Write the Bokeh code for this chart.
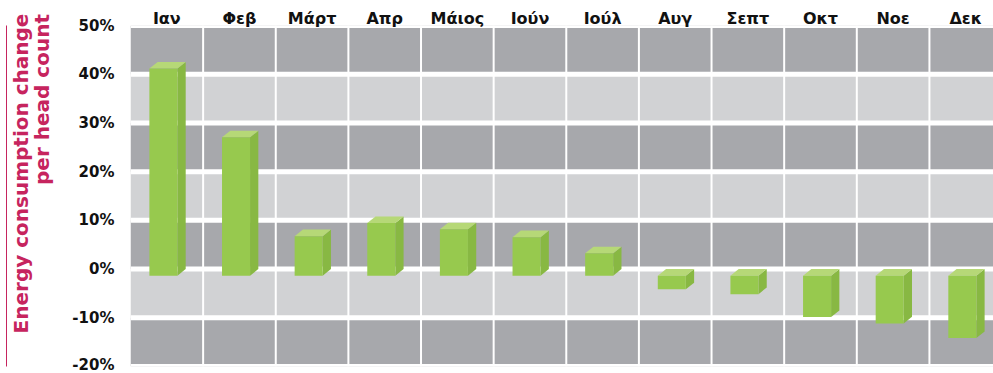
from bokeh.plotting import figure
from bokeh.models import Range1d, FixedTicker, LinearAxis
from bokeh.embed import file_html
from bokeh.resources import INLINE

# ---------------- data ----------------
months = ["Ιαν", "Φεβ", "Μάρτ", "Απρ", "Μάιος", "Ιούν", "Ιούλ", "Αυγ", "Σεπτ", "Οκτ", "Νοε", "Δεκ"]
change = [42.5, 28.4, 8.1, 10.8, 9.5, 7.9, 4.6, -2.8, -3.8, -8.5, -9.8, -12.8]
y_ticks = [-20, -10, 0, 10, 20, 30, 40, 50]
y_tick_labels = ["-20%", "-10%", "0%", "10%", "20%", "30%", "40%", "50%"]
y_title_1 = "Energy consumption change"
y_title_2 = "per head count"

# ---------------- style ----------------
W, H = 993, 373
LEFT, TOP, BOTTOM = 130, 25, 7
FRAME_H = H - TOP - BOTTOM
COL_PX = 72.63
PX_PER_UNIT = FRAME_H / (y_ticks[-1] - y_ticks[0])
x_end = (W - LEFT) / COL_PX
DARK, LIGHT = "#a7a8ac", "#d1d2d4"
FRONT, SIDE, TOPC = "#97c94e", "#88b843", "#b6d877"
PINK = "#c6245e"
FONT = "DejaVu Sans"


def px_y(canvas_y):
    """canvas pixel y -> data y"""
    return round(y_ticks[-1] - (canvas_y - TOP) / PX_PER_UNIT, 3)


p = figure(width=W, height=H, output_backend="svg", toolbar_location=None,
           x_range=Range1d(0, x_end), y_range=Range1d(y_ticks[0], y_ticks[-1]),
           min_border_left=LEFT, min_border_right=0, min_border_top=TOP,
           min_border_bottom=BOTTOM, x_axis_location="above",
           outline_line_color=None)
p.grid.visible = False

# background bands and white grid lines
lo, hi = y_ticks[:-1], y_ticks[1:]
band_colors = [DARK if i % 2 == 0 else LIGHT for i in range(len(lo))]
p.quad(left=0, right=x_end, bottom=lo, top=hi, fill_color=band_colors, line_color=None)
col_edges = list(range(1, len(months)))
p.segment(x0=col_edges, x1=col_edges, y0=y_ticks[0], y1=y_ticks[-1],
          line_color="white", line_width=2)
p.segment(x0=0, x1=x_end, y0=y_ticks, y1=y_ticks, line_color="white", line_width=5)

# 3D bars
d, dx, w, off = 1.35, 0.114, 0.386, 0.26
fx, fy, sx, sy, tx, ty = [], [], [], [], [], []
for i, v in enumerate(change):
    xl = i + off
    xr = xl + w
    ft = max(v, 0) - d
    fb = min(v, 0) - d
    fx.append([xl, xr, xr, xl]); fy.append([fb, fb, ft, ft])
    sx.append([xr, xr + dx, xr + dx, xr]); sy.append([fb, fb + d, ft + d, ft])
    tx.append([xl, xr, xr + dx, xl + dx]); ty.append([ft, ft, ft + d, ft + d])
p.patches(sx, sy, fill_color=SIDE, fill_alpha=1.0, line_color=None)
p.patches(tx, ty, fill_color=TOPC, fill_alpha=1.0, line_color=None)
p.patches(fx, fy, fill_color=FRONT, fill_alpha=1.0, line_color=None)


def plain(ax):
    ax.axis_line_color = None
    ax.major_tick_line_color = None
    ax.minor_tick_line_color = None
    ax.major_tick_out = 0
    ax.major_tick_in = 0
    ax.minor_tick_out = 0
    ax.minor_tick_in = 0
    ax.major_label_text_font = FONT
    ax.major_label_text_font_style = "bold"


# axes
xa = p.xaxis[0]
xa.ticker = FixedTicker(ticks=[i + 0.5 for i in range(len(months))])
xa.major_label_overrides = {i + 0.5: m for i, m in enumerate(months)}
ya = p.yaxis[0]
ya.ticker = FixedTicker(ticks=y_ticks)
ya.major_label_overrides = dict(zip(y_ticks, y_tick_labels))
for ax in (xa, ya):
    plain(ax)
    ax.major_label_text_color = "#111111"
xa.major_label_text_font_size = "16px"
xa.major_label_standoff = -2
ya.major_label_text_font_size = "15px"
ya.major_label_standoff = 16

# y title: two rotated lines, both ending at the top (centres at canvas y 99 / 173)
for txt, centre_px, standoff in ((y_title_2, 99, 15), (y_title_1, 173, -6)):
    c = px_y(centre_px)
    t_ax = LinearAxis(ticker=FixedTicker(ticks=[c]), major_label_overrides={c: txt},
                      major_label_orientation="vertical")
    plain(t_ax)
    t_ax.major_label_text_font_size = "20px"
    t_ax.major_label_text_color = PINK
    t_ax.major_label_standoff = standoff
    p.add_layout(t_ax, "left")

# thin pink rule at the far left
edge = LinearAxis(ticker=FixedTicker(ticks=[]), axis_line_color=PINK, axis_line_width=1,
                  major_tick_line_color=None, minor_tick_line_color=None,
                  major_tick_out=0, major_tick_in=0, minor_tick_out=0, minor_tick_in=0,
                  major_label_standoff=0, major_label_text_font_size="0px")
p.add_layout(edge, "left")

open("out.html", "w").write(file_html(p, INLINE))
